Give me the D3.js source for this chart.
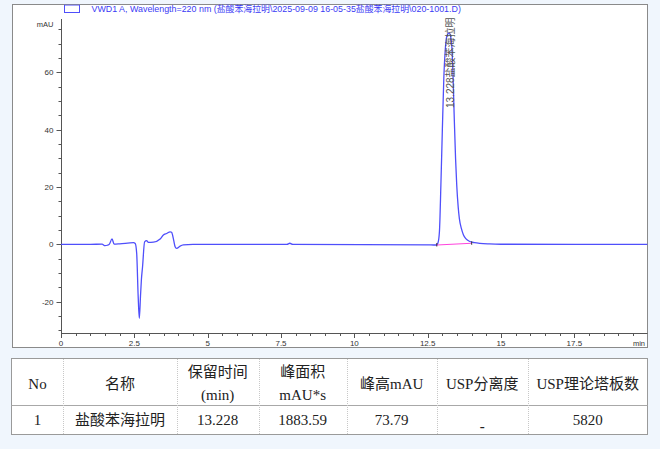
<!DOCTYPE html>
<html><head><meta charset="utf-8">
<script src="https://cdn.jsdelivr.net/npm/d3@7"></script>
<style>
html,body{margin:0;padding:0;background:#f0f6fd;}
svg{display:block;}
</style></head>
<body>
<svg id="c" width="660" height="449"></svg>
<script>
// ---- data ----
const times = [0,1.0,1.4,1.5,1.58,1.65,1.74,1.81,2.0,2.47,2.53,2.58,2.63,2.67,2.71,2.74,2.78,2.85,2.92,2.98,3.15,3.38,3.49,3.6,3.72,3.77,3.84,3.89,3.94,4.06,4.17,4.5,7.7,7.8,7.9,12.7,12.8,12.85,12.9,12.95,13.0,13.05,13.1,13.15,13.228,13.28,13.32,13.36,13.4,13.45,13.49,13.54,13.58,13.65,13.72,13.8,13.94,14.1,14.28,14.6,15,20];
const signal = [0,0,0.1,-0.45,-0.3,0.1,1.9,0.1,0.2,0.6,0.3,-3.1,-18,-25.8,-18,-12.4,-7.8,0.9,1.3,0.7,0.8,1.9,3.3,3.8,4.4,4.2,1.5,-0.8,-1.4,-0.6,-0.2,0,0,0.4,0,-0.2,-0.2,0.5,4.4,20.7,40,58,68,72.5,73.79,72.5,69.5,60,46,30,20.7,13,9,5.5,3.3,2.0,1.0,0.6,0.35,0.15,0.05,0];
const baselineT = [12.81,14.0];
const baselineV = [-0.2,0.4];
const peakTime = 13.228, peakHeight = 73.79;
const peakLabel = "13.228盐酸苯海拉明";
const yMajor = [-20,0,20,40,60];
const yMinor = [-30,-25,-15,-10,-5,5,10,15,25,30,35,45,50,55,65,70,75];
const xMajor = [0,2.5,5,7.5,10,12.5,15,17.5];
const xMajorLabels = ["0","2.5","5","7.5","10","12.5","15","17.5"];
const xMinor = [0.5,1,1.5,2,3,3.5,4,4.5,5.5,6,6.5,7,8,8.5,9,9.5,10.5,11,11.5,12,13,13.5,14,14.5,15.5,16,16.5,17,18,18.5,19,19.5,20];
const legendText = "VWD1 A, Wavelength=220 nm (盐酸苯海拉明\\2025-09-09 16-05-35盐酸苯海拉明\\020-1001.D)";
const headers = [["No"],["名称"],["保留时间","(min)"],["峰面积","mAU*s"],["峰高mAU"],["USP分离度"],["USP理论塔板数"]];
const rowValues = ["1","盐酸苯海拉明","13.228","1883.59","73.79","-","5820"];

// ---- drawing ----
const svg = d3.select("#c");
const blue = "#4f4ffb";
const x = d3.scaleLinear().domain([0,20]).range([61,647.7]);
const y = d3.scaleLinear().domain([-31,78.6]).range([333.3,19]);

// panel
svg.append("rect").attr("x",12.5).attr("y",4.5).attr("width",635).attr("height",343)
  .attr("fill","#fff").attr("stroke","#8a8a8a").attr("stroke-width",1);

svg.append("clipPath").attr("id","pc").append("rect")
  .attr("x",12.5).attr("y",4.5).attr("width",635).attr("height",343);

const g = svg.append("g").attr("clip-path","url(#pc)");
const axisCol = "#555";
const labFont = "Liberation Sans, Arial, sans-serif";

// y axis
g.append("line").attr("x1",61.5).attr("x2",61.5).attr("y1",y(78.6)).attr("y2",333.5).attr("stroke",axisCol);
g.selectAll(".ymaj").data(yMajor).enter().append("line")
  .attr("x1",56.5).attr("x2",61.5).attr("y1",d=>Math.round(y(d))+0.5).attr("y2",d=>Math.round(y(d))+0.5).attr("stroke",axisCol);
g.selectAll(".ymin").data(yMinor).enter().append("line")
  .attr("x1",58.5).attr("x2",61.5).attr("y1",d=>Math.round(y(d))+0.5).attr("y2",d=>Math.round(y(d))+0.5).attr("stroke",axisCol);
g.selectAll(".ylab").data(yMajor).enter().append("text")
  .attr("x",53.5).attr("y",d=>y(d)+3).attr("text-anchor","end")
  .attr("font-family",labFont).attr("font-size",8).attr("fill","#333").text(d=>d);
g.append("text").attr("x",53.5).attr("y",26.5).attr("text-anchor","end")
  .attr("font-family",labFont).attr("font-size",7.5).attr("fill","#333").text("mAU");

// x axis
g.append("line").attr("x1",61).attr("x2",648).attr("y1",333.5).attr("y2",333.5).attr("stroke",axisCol);
g.selectAll(".xmaj").data(xMajor).enter().append("line")
  .attr("x1",d=>Math.round(x(d))+0.5).attr("x2",d=>Math.round(x(d))+0.5).attr("y1",333.5).attr("y2",338).attr("stroke",axisCol);
g.selectAll(".xmin").data(xMinor).enter().append("line")
  .attr("x1",d=>Math.round(x(d))+0.5).attr("x2",d=>Math.round(x(d))+0.5).attr("y1",333.5).attr("y2",336).attr("stroke",axisCol);
g.selectAll(".xlab").data(xMajor).enter().append("text")
  .attr("x",d=>x(d)).attr("y",345.5).attr("text-anchor","middle")
  .attr("font-family",labFont).attr("font-size",8).attr("fill","#333").text((d,i)=>xMajorLabels[i]);
g.append("text").attr("x",645).attr("y",345.5).attr("text-anchor","end")
  .attr("font-family",labFont).attr("font-size",7.5).attr("fill","#333").text("min");

// signal line
const pts = times.map((t,i)=>[t,signal[i]]);
const line = d3.line().x(d=>x(d[0])).y(d=>y(d[1])).curve(d3.curveMonotoneX);
g.append("path").attr("d",line(pts)).attr("fill","none").attr("stroke",blue).attr("stroke-width",1.3);

// baseline
const bl = baselineT.map((t,i)=>[t,baselineV[i]]);
g.append("path").attr("d",d3.line().x(d=>x(d[0])).y(d=>y(d[1]))(bl)).attr("stroke","#ff44dd").attr("stroke-width",1.1).attr("fill","none");
g.selectAll(".bt").data(bl).enter().append("line")
  .attr("x1",d=>x(d[0])).attr("x2",d=>x(d[0])).attr("y1",d=>y(d[1])-2).attr("y2",d=>y(d[1])+1.5)
  .attr("stroke","#333").attr("stroke-width",1);

// peak label
g.append("text").attr("transform",`translate(${x(peakTime)+4.5},108) rotate(-90)`)
  .attr("font-family","Liberation Sans, 'Noto Sans CJK SC', sans-serif").attr("font-size",10).attr("fill","#555").text(peakLabel);

// legend
g.append("rect").attr("x",64.5).attr("y",5).attr("width",15).attr("height",7.5).attr("fill","#fff").attr("stroke",blue).attr("stroke-width",1);
g.append("text").attr("x",91.5).attr("y",11.8)
  .attr("font-family","Liberation Sans, 'Noto Sans CJK SC', sans-serif").attr("font-size",8.9).attr("fill","#3a3af5").text(legendText);

// ---- table ----
const colX = [11.7,63.3,176.7,258.7,346.7,436.7,527.7,647.7];
const tfont = "'Liberation Serif','Noto Sans CJK SC',serif";
const tg = svg.append("g");
tg.append("rect").attr("x",11.5).attr("y",358.5).attr("width",636).attr("height",76)
  .attr("fill","#fff").attr("stroke","#9a9a9a");
tg.append("line").attr("x1",11.5).attr("x2",647.5).attr("y1",405.5).attr("y2",405.5).attr("stroke","#a8a8a8");
tg.selectAll(".vd").data(colX.slice(1,-1)).enter().append("line")
  .attr("x1",d=>Math.round(d)+0.5).attr("x2",d=>Math.round(d)+0.5).attr("y1",359).attr("y2",434)
  .attr("stroke","#c8c8c8").attr("stroke-dasharray","1,1");
headers.forEach((h,i)=>{
  const cx = (colX[i]+colX[i+1])/2;
  if(h.length===1){
    tg.append("text").attr("x",cx).attr("y",388.5).attr("text-anchor","middle")
      .attr("font-family",tfont).attr("font-size",15).attr("fill","#222").text(h[0]);
  } else {
    tg.append("text").attr("x",cx).attr("y",377).attr("text-anchor","middle")
      .attr("font-family",tfont).attr("font-size",15).attr("fill","#222").text(h[0]);
    tg.append("text").attr("x",cx).attr("y",400).attr("text-anchor","middle")
      .attr("font-family",tfont).attr("font-size",15).attr("fill","#222").text(h[1]);
  }
});
rowValues.forEach((v,i)=>{
  const cx = (colX[i]+colX[i+1])/2;
  tg.append("text").attr("x",cx).attr("y",v==="-"?431:425).attr("text-anchor","middle")
    .attr("font-family",tfont).attr("font-size",15).attr("font-weight",v==="-"?"bold":"normal").attr("fill","#222").text(v);
});
</script>
</body></html>
